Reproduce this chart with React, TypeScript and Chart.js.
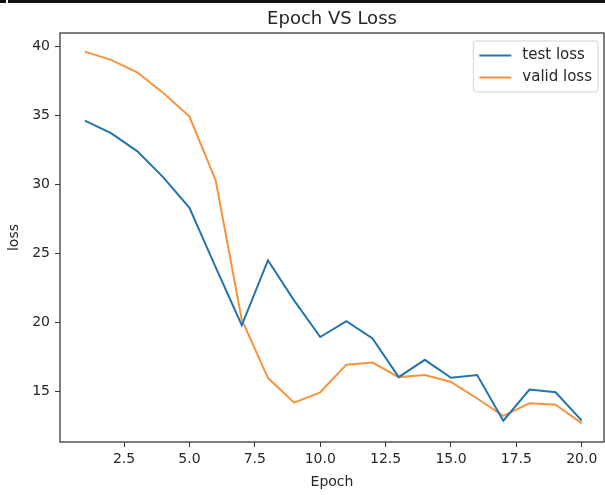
import React, { useEffect, useRef } from "react";
import { Chart, registerables } from "chart.js";

Chart.register(...registerables);

const epochs = [1, 2, 3, 4, 5, 6, 7, 8, 9, 10, 11, 12, 13, 14, 15, 16, 17, 18, 19, 20];
const testLoss = [34.6, 33.7, 32.4, 30.5, 28.3, 24.0, 19.8, 24.5, 21.6, 18.95, 20.1, 18.85, 16.05, 17.3, 16.0, 16.2, 12.9, 15.15, 14.95, 12.9];
const validLoss = [39.6, 39.0, 38.1, 36.6, 34.9, 30.3, 20.2, 16.0, 14.2, 14.95, 16.95, 17.1, 16.05, 16.2, 15.7, 14.5, 13.25, 14.15, 14.05, 12.7];
const xTicks = [2.5, 5.0, 7.5, 10.0, 12.5, 15.0, 17.5, 20.0];
const yTicks = [15, 20, 25, 30, 35, 40];
const seriesNames = ["test loss", "valid loss"];
const seriesColors = ["#2274ad", "#f7943a"];
const titleText = "Epoch VS Loss";
const xLabel = "Epoch";
const yLabel = "loss";

const FONT = '"DejaVu Sans", sans-serif';
const TEXT = "#262626";

const framePlugin = {
  id: "frame",
  afterDatasetsDraw(chart: any) {
    const { ctx, chartArea } = chart;
    ctx.save();
    ctx.strokeStyle = "#3a3a3a";
    ctx.lineWidth = 1.3;
    ctx.strokeRect(chartArea.left, chartArea.top, chartArea.right - chartArea.left, chartArea.bottom - chartArea.top);
    ctx.restore();
  },
};

const legendPlugin = {
  id: "mplLegend",
  afterDraw(chart: any) {
    const { ctx, chartArea } = chart;
    const fs = 15;
    ctx.save();
    ctx.font = `${fs}px ${FONT}`;
    const labels = chart.data.datasets.map((d: any) => d.label);
    const maxW = Math.max(...labels.map((l: string) => ctx.measureText(l).width));
    const pad = 6;
    const handle = 32;
    const gap = 11;
    const rowH = 22;
    const w = pad + handle + gap + maxW + pad;
    const h = rowH * labels.length + 7;
    const right = chartArea.right - 6;
    const top = chartArea.top + 8;
    const left = right - w;
    const r = 3;
    ctx.beginPath();
    ctx.moveTo(left + r, top);
    ctx.lineTo(right - r, top);
    ctx.quadraticCurveTo(right, top, right, top + r);
    ctx.lineTo(right, top + h - r);
    ctx.quadraticCurveTo(right, top + h, right - r, top + h);
    ctx.lineTo(left + r, top + h);
    ctx.quadraticCurveTo(left, top + h, left, top + h - r);
    ctx.lineTo(left, top + r);
    ctx.quadraticCurveTo(left, top, left + r, top);
    ctx.closePath();
    ctx.fillStyle = "rgba(255,255,255,0.85)";
    ctx.fill();
    ctx.strokeStyle = "#d4d4d4";
    ctx.lineWidth = 1;
    ctx.stroke();
    labels.forEach((lab: string, i: number) => {
      const cy = top + 14.5 + i * rowH;
      ctx.strokeStyle = chart.data.datasets[i].borderColor;
      ctx.lineWidth = 2;
      ctx.beginPath();
      ctx.moveTo(left + pad, cy);
      ctx.lineTo(left + pad + handle, cy);
      ctx.stroke();
      ctx.fillStyle = TEXT;
      ctx.textAlign = "left";
      ctx.textBaseline = "middle";
      ctx.fillText(lab, left + pad + handle + gap, cy);
    });
    ctx.restore();
  },
};

export default function App() {
  const ref = useRef<HTMLCanvasElement | null>(null);

  useEffect(() => {
    if (!ref.current) return;
    const chart = new Chart(ref.current, {
      type: "line",
      data: {
        datasets: [
          {
            label: seriesNames[0],
            data: epochs.map((e, i) => ({ x: e, y: testLoss[i] })),
            borderColor: seriesColors[0],
            backgroundColor: seriesColors[0],
            borderWidth: 2,
            pointRadius: 0,
            tension: 0,
          },
          {
            label: seriesNames[1],
            data: epochs.map((e, i) => ({ x: e, y: validLoss[i] })),
            borderColor: seriesColors[1],
            backgroundColor: seriesColors[1],
            borderWidth: 2,
            pointRadius: 0,
            tension: 0,
          },
        ],
      },
      options: {
        animation: false,
        responsive: false,
        layout: { padding: { left: 0, right: 1, top: 0, bottom: 0 } },
        plugins: {
          legend: { display: false },
          tooltip: { enabled: false },
          title: {
            display: true,
            text: titleText,
            fullSize: false,
            color: TEXT,
            font: { family: FONT, size: 18, weight: "normal" },
            padding: { top: 8.5, bottom: 2.9 },
          },
        },
        scales: {
          x: {
            type: "linear",
            min: 0.05,
            max: 20.85,
            afterBuildTicks: (scale: any) => {
              scale.ticks = xTicks.map((v) => ({ value: v }));
            },
            afterFit: (scale: any) => {
              scale.height = 53;
            },
            grid: { drawOnChartArea: false, drawTicks: true, tickLength: 5, tickColor: "#333", lineWidth: 1 },
            border: { display: false },
            ticks: {
              color: TEXT,
              font: { family: FONT, size: 14 },
              padding: 4,
              maxRotation: 0,
              autoSkip: false,
              callback: (v: any) => Number(v).toFixed(1),
            },
            title: {
              display: true,
              text: xLabel,
              color: TEXT,
              font: { family: FONT, size: 14 },
              padding: { top: 4, bottom: 4 },
            },
          },
          y: {
            type: "linear",
            min: 11.355,
            max: 40.945,
            afterBuildTicks: (scale: any) => {
              scale.ticks = yTicks.map((v) => ({ value: v }));
            },
            afterFit: (scale: any) => {
              scale.width = 60;
            },
            grid: { drawOnChartArea: false, drawTicks: true, tickLength: 5, tickColor: "#333", lineWidth: 1 },
            border: { display: false },
            ticks: {
              color: TEXT,
              font: { family: FONT, size: 14 },
              padding: 5,
              autoSkip: false,
              callback: (v: any) => String(v),
            },
            title: {
              display: true,
              text: yLabel,
              color: TEXT,
              font: { family: FONT, size: 14 },
              padding: { top: 6, bottom: 4 },
            },
          },
        },
      },
      plugins: [framePlugin, legendPlugin],
    } as any);
    return () => chart.destroy();
  }, []);

  return (
    <div
      style={{
        position: "absolute",
        left: 0,
        top: 0,
        width: 605,
        height: 495,
        overflow: "hidden",
        background: "#fff",
      }}
    >
      <canvas ref={ref} width={605} height={495} style={{ display: "block" }} />
      <div style={{ position: "absolute", left: 0, top: 0, width: 6, height: 3, background: "#111" }} />
      <div style={{ position: "absolute", left: 8, top: 0, width: 597, height: 3, background: "#111" }} />
    </div>
  );
}
